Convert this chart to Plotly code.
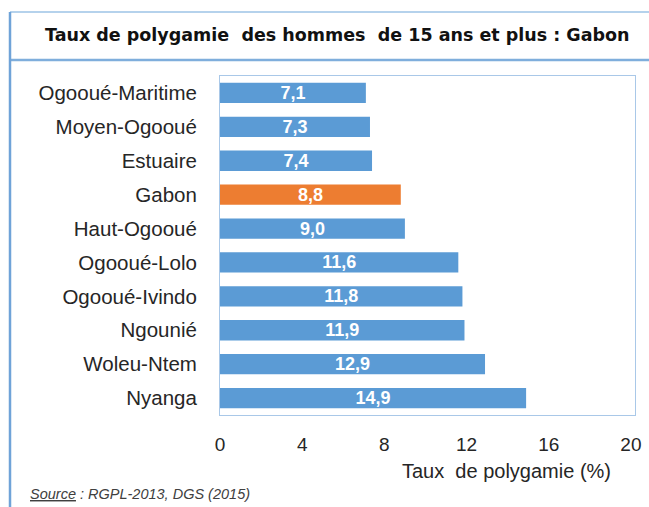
import plotly.graph_objects as go

regions = ["Ogooué-Maritime", "Moyen-Ogooué", "Estuaire", "Gabon", "Haut-Ogooué",
           "Ogooué-Lolo", "Ogooué-Ivindo", "Ngounié", "Woleu-Ntem", "Nyanga"]
values = [7.1, 7.3, 7.4, 8.8, 9.0, 11.6, 11.8, 11.9, 12.9, 14.9]
labels = ["7,1", "7,3", "7,4", "8,8", "9,0", "11,6", "11,8", "11,9", "12,9", "14,9"]
highlight = "Gabon"
x_ticks = [0, 4, 8, 12, 16, 20]

BLUE = "#5B9BD5"
ORANGE = "#ED7D31"
colors = [ORANGE if r == highlight else BLUE for r in regions]

W, H = 649, 507
L, R, T, B = 220, 635, 76, 415  # plot area pixel box

def px(x):
    return (x - L) / (R - L)

def py(y):
    return (B - y) / (B - T)

FONT = "Liberation Sans, Arial"

fig = go.Figure(go.Bar(
    y=regions, x=values, orientation="h",
    marker=dict(color=colors, line=dict(width=0)),
    width=0.6,
    text=labels, textposition="inside", insidetextanchor="middle",
    constraintext="none", cliponaxis=False,
    textfont=dict(family=FONT, size=18, color="white", weight="bold"),
    textangle=0,
    hoverinfo="skip",
))

fig.update_layout(
    width=W, height=H,
    margin=dict(l=L, r=W - R, t=T, b=H - B, autoexpand=False),
    paper_bgcolor="white", plot_bgcolor="white",
    showlegend=False,
    font=dict(family=FONT, color="#262626"),
    xaxis=dict(range=[0, 20.2], tickvals=x_ticks, ticktext=[str(v) for v in x_ticks],
               showgrid=False, zeroline=False, showline=True, mirror=True,
               linecolor="#A9C8E8", linewidth=1, ticks="", automargin=False,
               tickfont=dict(size=19, color="#262626"), ticklabelstandoff=12),
    yaxis=dict(categoryorder="array", categoryarray=regions, autorange="reversed",
               showgrid=False, zeroline=False, showline=True, mirror=True,
               linecolor="#A9C8E8", linewidth=1, ticks="", automargin=False,
               tickfont=dict(size=20.5, color="#262626"), ticklabelstandoff=18),
    bargap=0.4,
)

# Frame lines (title box + left border)
fig.add_shape(type="line", xref="paper", yref="paper",
              x0=px(10), x1=px(649), y0=py(12), y1=py(12),
              line=dict(color="#9DC3E6", width=1.5))
fig.add_shape(type="line", xref="paper", yref="paper",
              x0=px(10), x1=px(649), y0=py(60), y1=py(60),
              line=dict(color="#7FAEDC", width=2.5))
fig.add_shape(type="line", xref="paper", yref="paper",
              x0=px(10), x1=px(10), y0=py(12), y1=py(510),
              line=dict(color="#6FA3D8", width=2.5))

fig.add_annotation(xref="paper", yref="paper", x=px(337), y=py(35),
                   text="Taux de polygamie  des hommes  de 15 ans et plus : Gabon",
                   showarrow=False, xanchor="center", yanchor="middle",
                   font=dict(family="DejaVu Sans", size=17.5, color="#111111", weight="bold"))
fig.add_annotation(xref="paper", yref="paper", x=px(506), y=py(471),
                   text="Taux  de polygamie (%)", showarrow=False,
                   xanchor="center", yanchor="middle",
                   font=dict(size=20, color="#262626"))
fig.add_annotation(xref="paper", yref="paper", x=px(28), y=py(494),
                   text="<i><u>Source</u> : RGPL-2013, DGS (2015)</i>", showarrow=False,
                   xanchor="left", yanchor="middle",
                   font=dict(size=14.5, color="#404040"))

fig.write_html("out.html", config={"displayModeBar": False},
               post_script="document.body.style.margin='0';document.body.style.overflow='hidden';")
